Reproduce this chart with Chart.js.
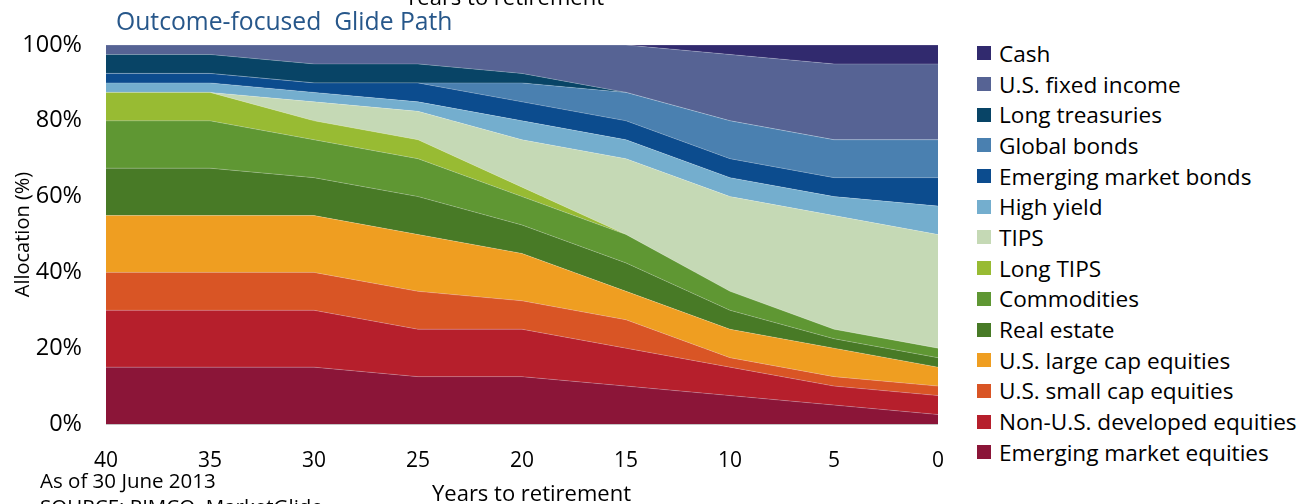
<!DOCTYPE html>
<html>
<head>
<meta charset="utf-8">
<script src="https://cdn.jsdelivr.net/npm/chart.js@4.4.0/dist/chart.umd.min.js"></script>
<style>
  body { margin: 0; background: #fff; font-family: "Open Sans", sans-serif; }
  #wrap { position: relative; width: 1305px; height: 504px; overflow: hidden; }
  #grafica { position: absolute; left: 0; top: 0; }
  .txt { position: absolute; white-space: nowrap; color: #000; }
  #titulo { left: 116px; top: 4px; font-size: 24.7px; color: #27578a; }
  #leyenda { position: absolute; left: 977px; top: 38px; }
  .item { height: 30.7px; display: flex; align-items: center; font-size: 22.6px; }
  .caja { width: 14px; height: 14px; margin-right: 8px; }
</style>
</head>
<body>
<div id="wrap">
  <canvas id="grafica" width="960" height="504"></canvas>
  <div class="txt" style="left:405px; top:-19px; font-size:22px;">Years to retirement</div>
  <div class="txt" id="titulo">Outcome-focused&nbsp; Glide Path</div>
  <div class="txt" style="left:40px; top:466px; font-size:20.5px;">As of 30 June 2013</div>
  <div class="txt" style="left:40px; top:492px; font-size:20.5px;">SOURCE: PIMCO, MarketGlide</div>
  <div class="txt" style="left:432px; top:477px; font-size:22px;">Years to retirement</div>
  <div id="leyenda"></div>
</div>
<script>
// Años para el retiro (eje x)
const anios = ["40", "35", "30", "25", "20", "15", "10", "5", "0"];

// Asignación (%) por clase de activo, de abajo hacia arriba
const emergingEquities = [15, 15, 15, 12.5, 12.5, 10, 7.5, 5, 2.5];
const nonUSDeveloped   = [15, 15, 15, 12.5, 12.5, 10, 7.5, 5, 5];
const usSmallCap       = [10, 10, 10, 10, 7.5, 7.5, 2.5, 2.5, 2.5];
const usLargeCap       = [15, 15, 15, 15, 12.5, 7.5, 7.5, 7.5, 5];
const realEstate       = [12.5, 12.5, 10, 10, 7.5, 7.5, 5, 2.5, 2.5];
const commodities      = [12.5, 12.5, 10, 10, 7.5, 7.5, 5, 2.5, 2.5];
const longTips         = [7.5, 7.5, 5, 5, 2.5, 0, 0, 0, 0];
const tips             = [0, 0, 5, 7.5, 12.5, 20, 25, 30, 30];
const highYield        = [2.5, 2.5, 2.5, 2.5, 5, 5, 5, 5, 7.5];
const emergingBonds    = [2.5, 2.5, 2.5, 5, 5, 5, 5, 5, 7.5];
const globalBonds      = [0, 0, 0, 0, 5, 7.5, 10, 10, 10];
const longTreasuries   = [5, 5, 5, 5, 2.5, 0, 0, 0, 0];
const usFixedIncome    = [2.5, 2.5, 5, 5, 7.5, 12.5, 17.5, 20, 20];
const cash             = [0, 0, 0, 0, 0, 0, 2.5, 5, 5];

const yTicks = [0, 20, 40, 60, 80, 100];

const series = [
    { label: "Emerging market equities", data: emergingEquities, color: "#8b1538" },
    { label: "Non-U.S. developed equities", data: nonUSDeveloped, color: "#b61f2c" },
    { label: "U.S. small cap equities", data: usSmallCap, color: "#d95525" },
    { label: "U.S. large cap equities", data: usLargeCap, color: "#ef9e21" },
    { label: "Real estate", data: realEstate, color: "#487a26" },
    { label: "Commodities", data: commodities, color: "#5f9733" },
    { label: "Long TIPS", data: longTips, color: "#98bb33" },
    { label: "TIPS", data: tips, color: "#c5d9b5" },
    { label: "High yield", data: highYield, color: "#74aece" },
    { label: "Emerging market bonds", data: emergingBonds, color: "#0c4c8e" },
    { label: "Global bonds", data: globalBonds, color: "#4a80b0" },
    { label: "Long treasuries", data: longTreasuries, color: "#084466" },
    { label: "U.S. fixed income", data: usFixedIncome, color: "#566394" },
    { label: "Cash", data: cash, color: "#312a6e" }
];

const ctx = document.getElementById("grafica");

const chart = new Chart(ctx, {
    type: "line",
    data: {
        labels: anios,
        datasets: series.map((s, i) => ({
            label: s.label,
            data: s.data,
            backgroundColor: s.color,
            borderColor: "rgba(255,255,255,0.35)",
            borderWidth: 0.6,
            pointRadius: 0,
            tension: 0,
            fill: i === 0 ? "origin" : "-1"
        }))
    },
    options: {
        responsive: false,
        animation: false,
        layout: { padding: { top: 45, right: 17, left: 0, bottom: 0 } },
        plugins: { legend: { display: false }, tooltip: { enabled: false } },
        scales: {
            x: {
                offset: false,
                grid: { display: false },
                border: { color: "#c4c4c4", width: 1 },
                ticks: {
                    color: "#000",
                    padding: 16,
                    maxRotation: 0,
                    autoSkip: false,
                    font: { family: "Open Sans", size: 21 }
                },
                afterFit: (scale) => { scale.height = 80; }
            },
            y: {
                stacked: true,
                min: 0,
                max: 100,
                afterBuildTicks: (scale) => { scale.ticks = yTicks.map(v => ({ value: v })); },
                grid: { color: "#d0d0d0", drawTicks: false },
                border: { display: false },
                ticks: {
                    color: "#000",
                    padding: 24,
                    font: { family: "Open Sans", size: 23.5 },
                    callback: (v) => v + "%"
                },
                title: {
                    display: true,
                    text: "Allocation (%)",
                    color: "#000",
                    padding: { top: 11, bottom: 0 },
                    font: { family: "Open Sans", size: 20 }
                },
                afterFit: (scale) => { scale.width = 106; }
            }
        }
    }
});

// Leyenda en HTML, en orden inverso (Cash arriba)
const leyenda = document.getElementById("leyenda");
series.slice().reverse().forEach(s => {
    const fila = document.createElement("div");
    fila.className = "item";
    fila.innerHTML = `<span class="caja" style="background:${s.color}"></span>${s.label}`;
    leyenda.appendChild(fila);
});
</script>
</body>
</html>
